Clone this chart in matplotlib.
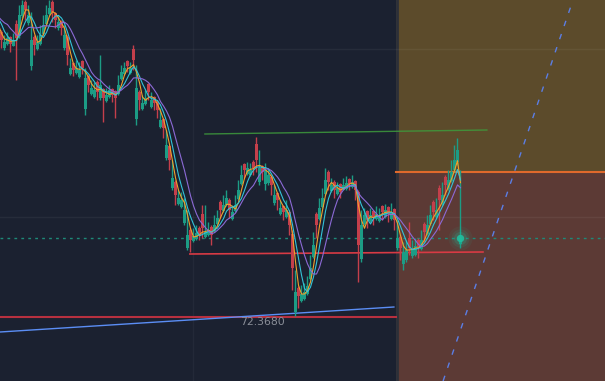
import matplotlib
matplotlib.use('Agg')
import matplotlib.pyplot as plt
import numpy as np
import pandas as pd

# candle data, first 6 bars sit left of the visible window
open_ = [75.41, 75.47, 75.42, 75.45, 75.37, 75.25,
         75.22, 75.06, 75.10, 75.17, 75.08, 75.30, 75.18, 75.38, 75.52, 75.31,
         74.88, 75.17, 75.05, 75.10, 75.20, 75.30, 75.40, 75.52, 75.41, 75.26,
         75.33, 75.06, 75.17, 74.80, 74.91, 74.81, 74.77, 74.93, 74.45, 74.78,
         74.60, 74.57, 74.72, 74.56, 74.65, 74.53, 74.57, 74.65, 74.63, 74.60,
         74.75, 74.80, 74.93, 74.81, 75.05, 74.35, 74.62, 74.45, 74.50, 74.70,
         74.47, 74.57, 74.52, 74.27, 74.35, 73.96, 74.08, 73.66, 73.72, 73.50,
         73.47, 73.31, 73.06, 73.24, 73.13, 73.15, 73.26, 73.40, 73.17, 73.19,
         73.27, 73.23, 73.30, 73.52, 73.43, 73.49, 73.54, 73.35, 73.43, 73.55,
         73.70, 73.90, 73.80, 73.79, 73.92, 74.10, 73.72, 73.88, 73.70, 73.71,
         73.77, 73.51, 73.61, 73.40, 73.48, 73.37, 73.42, 73.20, 72.42, 72.66,
         72.53, 72.55, 72.60, 72.75, 72.97, 73.40, 73.35, 73.47, 73.60, 73.82,
         73.63, 73.72, 73.60, 73.70, 73.64, 73.65, 73.75, 73.67, 73.73, 73.62,
         72.95, 73.30, 73.43, 73.33, 73.43, 73.35, 73.33, 73.48, 73.37, 73.47,
         73.35, 73.45, 73.06, 73.17, 72.90, 72.94, 73.16, 72.98, 72.99, 73.14,
         73.05, 73.30, 73.20, 73.30, 73.52, 73.37, 73.66, 73.50, 73.77, 73.65,
         73.73, 73.84, 73.92, 73.10]
close = [75.46, 75.42, 75.48, 75.39, 75.29, 75.19,
         75.14, 75.12, 75.16, 75.10, 75.14, 75.16, 75.39, 75.49, 75.44, 75.39,
         75.14, 75.09, 75.12, 75.19, 75.29, 75.39, 75.46, 75.42, 75.34, 75.32,
         75.26, 75.19, 74.99, 74.86, 74.84, 74.86, 74.84, 74.86, 74.76, 74.69,
         74.66, 74.64, 74.62, 74.69, 74.56, 74.59, 74.64, 74.59, 74.56, 74.69,
         74.82, 74.86, 74.88, 74.86, 74.94, 74.66, 74.54, 74.51, 74.56, 74.62,
         74.54, 74.51, 74.44, 74.34, 74.26, 74.09, 73.94, 73.76, 73.59, 73.56,
         73.54, 73.44, 73.19, 73.14, 73.18, 73.21, 73.19, 73.26, 73.22, 73.24,
         73.19, 73.29, 73.36, 73.44, 73.49, 73.56, 73.44, 73.42, 73.49, 73.64,
         73.79, 73.84, 73.86, 73.84, 73.86, 73.94, 73.86, 73.82, 73.84, 73.79,
         73.69, 73.59, 73.54, 73.46, 73.42, 73.44, 73.29, 72.86, 72.62, 72.58,
         72.60, 72.62, 72.68, 72.86, 73.09, 73.29, 73.46, 73.56, 73.74, 73.72,
         73.69, 73.64, 73.66, 73.62, 73.69, 73.71, 73.70, 73.72, 73.64, 73.09,
         73.29, 73.39, 73.34, 73.39, 73.36, 73.40, 73.39, 73.42, 73.44, 73.40,
         73.42, 73.34, 73.16, 73.06, 73.02, 73.04, 73.06, 73.04, 73.08, 73.06,
         73.14, 73.22, 73.29, 73.39, 73.42, 73.44, 73.54, 73.59, 73.69, 73.74,
         73.82, 73.94, 74.04, 73.16]
high = [75.52, 75.49, 75.54, 75.46, 75.39, 75.26,
        75.24, 75.19, 75.22, 75.18, 75.21, 75.34, 75.49, 75.54, 75.54, 75.49,
        75.42, 75.19, 75.19, 75.29, 75.39, 75.49, 75.54, 75.54, 75.42, 75.39,
        75.34, 75.29, 75.19, 74.96, 74.92, 74.94, 74.92, 74.94, 74.86, 74.79,
        74.74, 74.72, 74.74, 74.99, 74.66, 74.66, 74.69, 74.66, 74.64, 74.79,
        74.89, 74.92, 74.94, 74.92, 75.09, 74.89, 74.64, 74.59, 74.64, 74.71,
        74.62, 74.58, 74.54, 74.46, 74.36, 74.24, 74.09, 73.94, 73.74, 73.64,
        73.62, 73.56, 73.44, 73.26, 73.26, 73.29, 73.28, 73.49, 73.49, 73.32,
        73.29, 73.39, 73.44, 73.54, 73.59, 73.64, 73.56, 73.49, 73.59, 73.74,
        73.89, 73.91, 73.92, 73.91, 73.94, 74.17, 74.04, 73.89, 73.91, 73.86,
        73.79, 73.69, 73.62, 73.54, 73.49, 73.54, 73.44, 73.24, 72.84, 72.68,
        72.69, 72.71, 72.78, 72.99, 73.22, 73.42, 73.56, 73.66, 73.86, 73.84,
        73.76, 73.74, 73.72, 73.71, 73.76, 73.78, 73.76, 73.79, 73.74, 73.64,
        73.44, 73.46, 73.44, 73.46, 73.44, 73.48, 73.46, 73.49, 73.50, 73.48,
        73.51, 73.46, 73.34, 73.19, 73.12, 73.14, 73.32, 73.14, 73.16, 73.16,
        73.24, 73.32, 73.39, 73.49, 73.54, 73.56, 73.69, 73.72, 73.79, 73.84,
        73.94, 74.09, 74.16, 73.84]
low = [75.39, 75.36, 75.40, 75.32, 75.24, 75.09,
       75.06, 75.04, 75.09, 75.02, 75.08, 74.74, 75.16, 75.36, 75.34, 75.29,
       74.84, 74.99, 75.04, 75.09, 75.19, 75.29, 75.39, 75.32, 75.26, 75.24,
       75.19, 75.04, 74.89, 74.79, 74.78, 74.80, 74.76, 74.80, 74.39, 74.62,
       74.59, 74.56, 74.54, 74.54, 74.32, 74.52, 74.56, 74.52, 74.36, 74.59,
       74.74, 74.79, 74.82, 74.80, 74.84, 74.29, 74.44, 74.44, 74.49, 74.54,
       74.46, 74.44, 74.36, 74.26, 74.16, 73.94, 73.84, 73.64, 73.49, 73.49,
       73.46, 73.29, 73.04, 73.02, 73.12, 73.14, 73.14, 73.16, 73.16, 73.18,
       73.09, 73.22, 73.29, 73.36, 73.42, 73.48, 73.36, 73.34, 73.42, 73.54,
       73.69, 73.76, 73.79, 73.78, 73.79, 73.82, 73.69, 73.74, 73.64, 73.69,
       73.59, 73.49, 73.44, 73.39, 73.34, 73.36, 73.19, 72.64, 72.38, 72.46,
       72.52, 72.54, 72.59, 72.74, 72.96, 73.16, 73.34, 73.46, 73.59, 73.64,
       73.62, 73.56, 73.59, 73.56, 73.64, 73.64, 73.64, 73.66, 73.54, 72.72,
       72.92, 73.29, 73.26, 73.32, 73.29, 73.34, 73.32, 73.34, 73.36, 73.32,
       73.34, 73.24, 73.04, 72.94, 72.84, 72.92, 72.99, 72.96, 72.98, 72.96,
       73.04, 73.12, 73.19, 73.29, 73.34, 73.36, 73.24, 73.49, 73.59, 73.64,
       73.72, 73.82, 73.89, 73.06]
lead_bars = 6

# drawings on the chart
low_level = 72.368
target_level = 73.82
zone_start = 131.5
green_line = ([67.8, 161.8], [74.20, 74.24])
support_line = ([62.8, 160.5], [73.00, 73.02])
trend_line = ([-0.5, 130.8], [72.22, 72.47])
dashed_ray = ([147.2, 190.5], [71.73, 75.54])
grid_prices = [75.05, 73.37]
grid_bars = [63.8]

BG = '#1b2130'
TEAL = '#1c9c85'
RED = '#c43f4b'

df = pd.DataFrame({'open': open_, 'close': close, 'high': high, 'low': low})
df['x'] = np.arange(len(df)) - lead_bars

fig = plt.figure(figsize=(6.05, 3.81), dpi=100)
fig.patch.set_facecolor(BG)
ax = fig.add_axes([0, 0, 1, 1])
ax.axis('off')
ax.set_xlim(-0.5, 201.17)
ax.set_ylim(71.73, 75.54)

# target zone
ax.axvspan(zone_start, 202, color='#5c3a35', lw=0, zorder=0)
ax.fill_between([zone_start, 202], target_level, 75.6, color='#5c4b2b', lw=0, zorder=0)
ax.axvline(zone_start + 0.3, color='#2c3039', lw=2, zorder=0.5)
ax.plot([zone_start, 202], [target_level] * 2, color='#e0692c', lw=1.5, zorder=1)

# grid
for p in grid_prices:
    ax.axhline(p, color='white', alpha=0.05, lw=1, zorder=0.6)
for b in grid_bars:
    ax.axvline(b, color='white', alpha=0.04, lw=1, zorder=0.6)

# candles
colors = np.where(df['close'] >= df['open'], TEAL, RED)
ax.vlines(df['x'], df['low'], df['high'], colors=colors, lw=1, zorder=3)
body_low = np.minimum(df['open'], df['close'])
body_h = np.maximum((df['close'] - df['open']).abs(), 0.015)
ax.bar(df['x'], body_h, bottom=body_low, width=0.9, color=colors, lw=0, zorder=3)

# moving averages
for win, col in [(3, '#f2a12c'), (5, '#33c4d8'), (9, '#8c6ad6')]:
    ma = df['close'].rolling(win, min_periods=1).mean()
    ax.plot(df['x'], ma, color=col, lw=0.8, zorder=4)

# lines
ax.plot([-0.5, zone_start], [low_level] * 2, color='#b8303f', lw=1.5, zorder=2)
ax.plot(*trend_line, color='#5b8ef5', lw=1, zorder=2)
ax.plot(*support_line, color='#d83a44', lw=1.2, zorder=2)
ax.plot(*green_line, color='#3e9b3c', lw=1, alpha=0.85, zorder=2)
ax.plot(*dashed_ray, color='#5b7ee5', lw=1, dashes=(4, 6), zorder=2)

last_x = df['x'].iloc[-1]
last_close = df['close'].iloc[-1]
ax.axhline(last_close, color='#1e8a78', lw=1, dashes=(2, 3), zorder=1.5)

# glow on last price
for s, a in [(300, 0.07), (170, 0.11), (90, 0.18), (28, 0.9)]:
    ax.scatter([last_x], [last_close], s=s, color='#1fc0a0', alpha=a, lw=0, zorder=5)

ax.text(79.5, low_level - 0.045, '72.3680', color='#8a8e98', fontsize=7.8,
        ha='left', va='center', zorder=6)

fig.savefig('out.png', dpi=100, facecolor=fig.get_facecolor())
